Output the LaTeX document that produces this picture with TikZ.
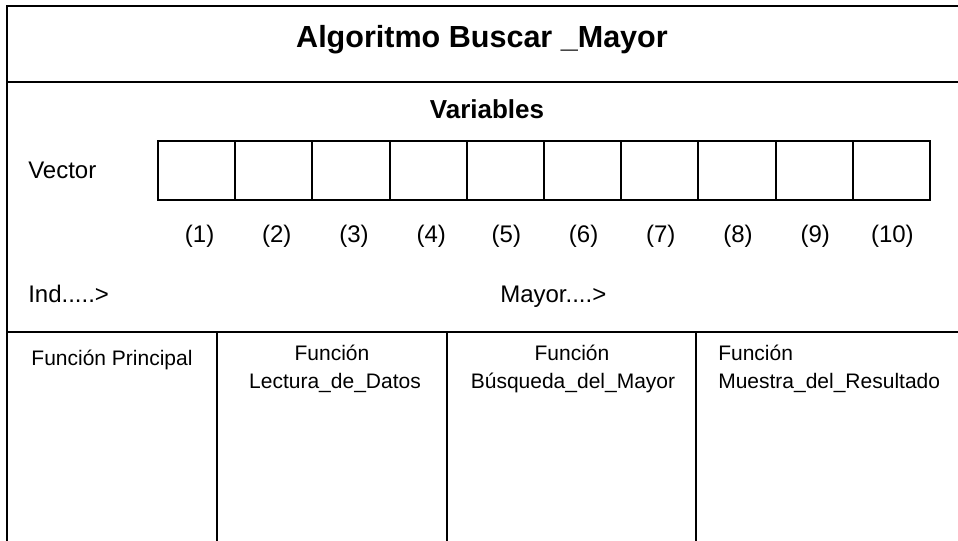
\documentclass[tikz,border=0pt]{standalone}
\usepackage{fontspec}
\setmainfont{Liberation Sans}
\begin{document}
\begin{tikzpicture}[x=0.75pt,y=-0.75pt,
  frame/.style={line width=1.5pt, line cap=rect},
  cell/.style={draw, line width=1.5pt, minimum width=57.9pt, minimum height=44.25pt, inner sep=0pt, outer sep=0pt},
  txt/.style={inner sep=0pt, anchor=base, font=\fontsize{18}{21}\selectfont},
  txtl/.style={txt, anchor=base west},
  func/.style={inner sep=0pt, anchor=base, font=\fontsize{15.75}{20.5}\selectfont},
  funcl/.style={func, anchor=base west}]
\useasboundingbox (0,0) rectangle (958,540);
% frame lines
\coordinate (tl) at (7,6);
\coordinate (tr) at (958,6);
\coordinate (bl) at (7,540);
\coordinate (m1l) at (7,82);
\coordinate (m1r) at (958,82);
\coordinate (m2l) at (7,332);
\coordinate (m2r) at (958,332);
\draw[frame] (tr) -- (tl) -- (bl);
\draw[frame] (m1l) -- (m1r);
\draw[frame] (m2l) -- (m2r);
\foreach \x/\n in {217/a,447/b,696/c}{
  \coordinate (v\n t) at (\x,332);
  \coordinate (v\n b) at (\x,540);
  \draw[frame] (v\n t) -- (v\n b);
}
% title
\node[inner sep=0pt, anchor=base, font=\fontsize{22.9}{26}\selectfont\bfseries] (title) at (482,47) {Algoritmo Buscar \_Mayor};
\node[inner sep=0pt, anchor=base, font=\fontsize{19.5}{23}\selectfont\bfseries] (vars) at (487,118) {Variables};
% vector
\node[txtl] (vector) at (28,178) {Vector};
\foreach \i in {1,...,10}{
  \node[cell] (c\i) at ({158+77.2*(\i-0.5)},170) {};
  \node[txt] (l\i) at ({158+77.2*(\i-0.5)+ (\i<5 ? 3 : 1)},242) {(\i)};
}
\node[txtl] (ind) at (28,302) {Ind.....>};
\node[txtl] (mayor) at (500,302) {Mayor....>};
% functions
\node[func] (f1) at (112,365) {Función Principal};
\node[func] (f2a) at (332,360) {Función};
\node[func] (f2b) at (335,388) {Lectura\_de\_Datos};
\node[func] (f3a) at (572,360) {Función};
\node[func] (f3b) at (573,388) {Búsqueda\_del\_Mayor};
\node[funcl] (f4a) at (718,360) {Función};
\node[funcl] (f4b) at (718,388) {Muestra\_del\_Resultado};
\end{tikzpicture}
\end{document}
